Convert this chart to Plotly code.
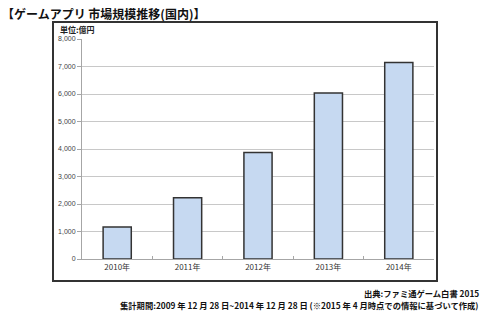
import plotly.graph_objects as go

categories = ["2010年", "2011年", "2012年", "2013年", "2014年"]
values = [1160, 2230, 3870, 6040, 7150]
tick_vals = [0, 1000, 2000, 3000, 4000, 5000, 6000, 7000, 8000]
tick_text = ["0", "1,000", "2,000", "3,000", "4,000", "5,000", "6,000", "7,000", "8,000"]

FONT = "Liberation Sans, Arial, Noto Sans CJK JP"
JP = "Noto Sans CJK JP, Liberation Sans"

W, H = 490, 322
L, R, T, B = 82, 56, 39, 63
pw, ph = W - L - R, H - T - B

def px(x):
    return (x - L) / pw

def py(y):
    return (H - B - y) / ph

fig = go.Figure(go.Bar(
    x=categories, y=values,
    marker=dict(color="#c6d9f1", line=dict(color="#333333", width=1.5)),
))

fig.update_layout(
    width=W, height=H,
    margin=dict(l=L, r=R, t=T, b=B),
    paper_bgcolor="white", plot_bgcolor="white",
    bargap=0.6, showlegend=False,
    font=dict(family=FONT, size=8, color="#333333"),
    xaxis=dict(showgrid=False, showline=True, linecolor="#a6a6a6", linewidth=1,
               ticks="inside", ticklen=3, tickcolor="#a6a6a6", tickson="boundaries",
               tickfont=dict(family=JP, size=8, color="#333333")),
    yaxis=dict(range=[0, 8000], tickvals=tick_vals, ticktext=tick_text,
               showgrid=True, gridcolor="#c8c8c8", gridwidth=1,
               showline=True, linecolor="#a6a6a6", linewidth=1,
               ticks="outside", ticklen=4, tickcolor="#a6a6a6",
               tickfont=dict(size=7, color="#444444"), zeroline=False),
    shapes=[dict(type="rect", xref="paper", yref="paper",
                 x0=px(53), x1=px(437), y0=py(281), y1=py(22),
                 line=dict(color="#333333", width=2))],
    annotations=[
        dict(text="<b>【ゲームアプリ 市場規模推移(国内)】</b>", xref="paper", yref="paper",
             x=px(0), y=py(13), xanchor="left", yanchor="middle", showarrow=False,
             font=dict(family=JP, size=12, color="#111111")),
        dict(text="<b>単位:億円</b>", xref="paper", yref="paper",
             x=px(58), y=py(29), xanchor="left", yanchor="middle", showarrow=False,
             font=dict(family=JP, size=8, color="#222222")),
        dict(text="<b>出典:ファミ通ゲーム白書 2015</b>", xref="paper", yref="paper",
             x=px(481), y=py(293), xanchor="right", yanchor="middle", showarrow=False,
             font=dict(family=JP, size=8.3, color="#111111")),
        dict(text="<b>集計期間:2009 年 12 月 28 日~2014 年 12 月 28 日 (※2015 年 4 月時点での情報に基づいて作成)</b>",
             xref="paper", yref="paper",
             x=px(481), y=py(305), xanchor="right", yanchor="middle", showarrow=False,
             font=dict(family=JP, size=8.3, color="#111111")),
    ],
)

fig.write_html("out.html")
